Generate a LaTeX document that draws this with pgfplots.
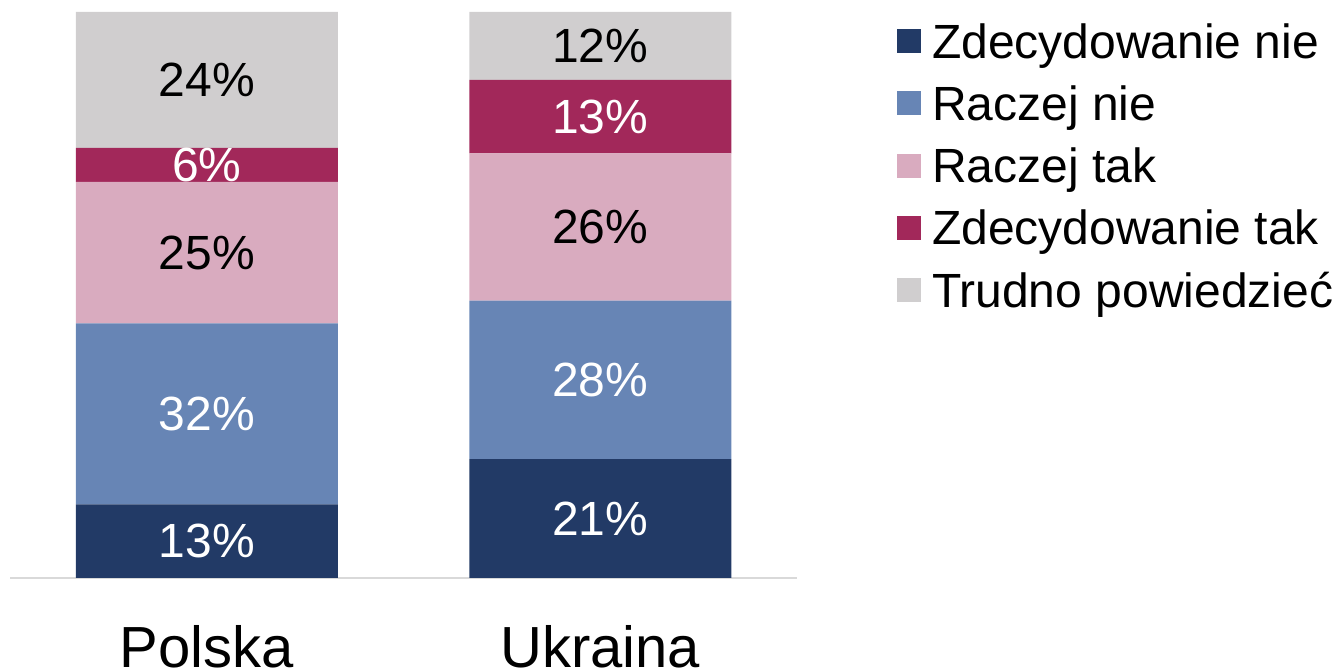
\documentclass[border=0pt]{standalone}
\usepackage{fontspec}
\setmainfont{Liberation Sans}
\usepackage{pgfplots}
\pgfplotsset{compat=1.18}
\definecolor{cNavy}{HTML}{223A66}
\definecolor{cBlue}{HTML}{6785B5}
\definecolor{cPink}{HTML}{D9ABBF}
\definecolor{cCrim}{HTML}{A2285A}
\definecolor{cGrey}{HTML}{D0CECF}
\begin{document}
\begin{tikzpicture}[x=1bp,y=1bp]
\path[use as bounding box] (0,0) rectangle (1342,669);
\begin{axis}[
  at={(10bp,91bp)}, anchor=south west,
  scale only axis, width=787bp, height=566bp,
  ybar stacked, bar width=262bp,
  xmin=-0.5, xmax=1.5, ymin=0, ymax=100,
  axis x line*=bottom, axis y line=none,
  x axis line style={draw=black!15, line width=1.5bp, -},
  xtick={0,1}, xticklabels={Polska,Ukraina},
  xtick style={draw=none},
  xticklabel style={font=\fontsize{58bp}{70bp}\selectfont, anchor=base, yshift=-89bp},
  ytick=\empty,
  /pgf/number format/assume math mode=true,
  point meta=rawy,
  nodes near coords={\pgfmathprintnumber{\pgfplotspointmeta}\%},
  every node near coord/.append style={font=\fontsize{48bp}{58bp}\selectfont, anchor=center, inner sep=0pt},
  legend style={draw=none, fill=none, at={(1.1271,0.9823)}, anchor=north west,
    inner sep=0pt, outer sep=0pt, row sep=16.25bp,
    font=\fontsize{48bp}{58bp}\selectfont,
    nodes={inner sep=0pt, text height=36bp, text depth=10bp},
    /tikz/every odd column/.append style={column sep=11bp}},
  legend cell align=left,
  legend image code/.code={\fill[#1] (0bp,-8bp) rectangle (24bp,16bp);},
  clip=false,
]
\addplot[fill=cNavy, draw=none, every node near coord/.append style={text=white}] coordinates {(0,13) (1,21)};
\addplot[fill=cBlue, draw=none, every node near coord/.append style={text=white}] coordinates {(0,32) (1,28)};
\addplot[fill=cPink, draw=none, every node near coord/.append style={text=black}] coordinates {(0,25) (1,26)};
\addplot[fill=cCrim, draw=none, every node near coord/.append style={text=white}] coordinates {(0,6) (1,13)};
\addplot[fill=cGrey, draw=none, every node near coord/.append style={text=black}] coordinates {(0,24) (1,12)};
\legend{Zdecydowanie nie, Raczej nie, Raczej tak, Zdecydowanie tak, Trudno powiedzieć}
\end{axis}
\end{tikzpicture}
\end{document}
